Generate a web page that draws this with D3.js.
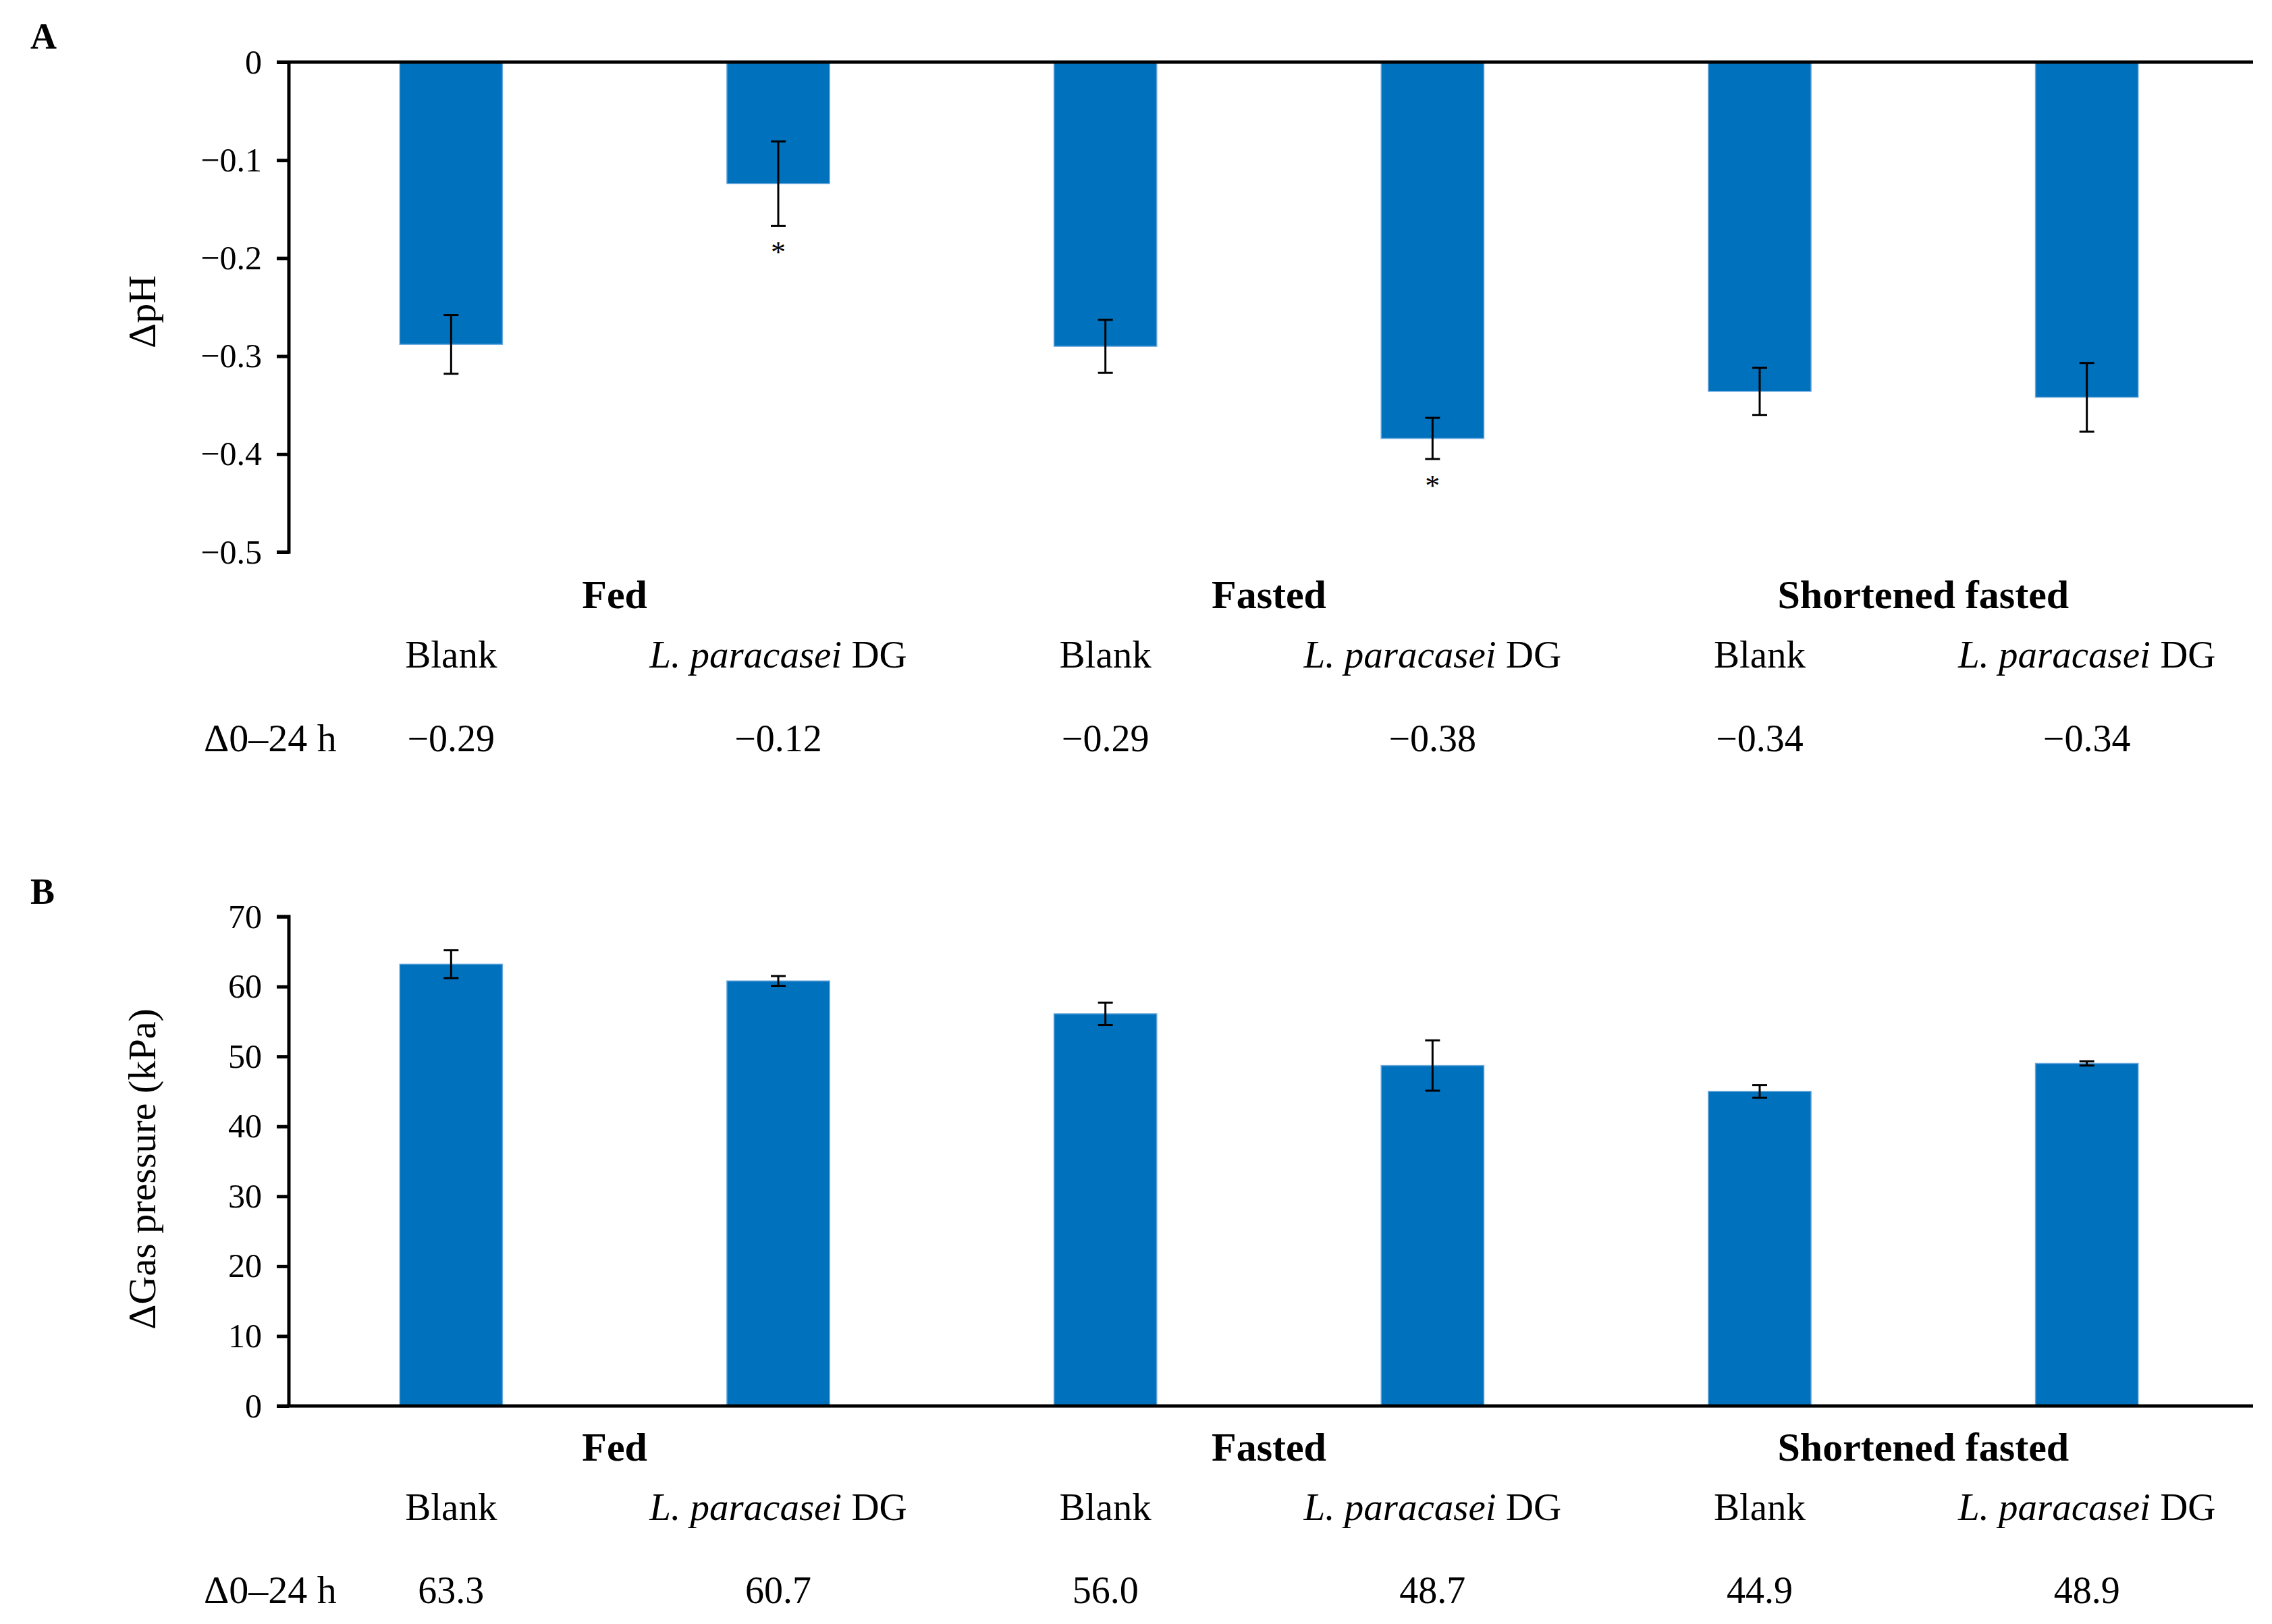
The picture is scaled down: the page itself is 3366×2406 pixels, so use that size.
<!DOCTYPE html>
<html>
<head>
<meta charset="utf-8">
<script src="https://cdn.jsdelivr.net/npm/d3@7"></script>
<style>
  body { margin: 0; background: #fff; }
  text { font-family: "Liberation Serif", "Times New Roman", serif; fill: #000; }
</style>
</head>
<body>
<svg id="chart" width="3366" height="2406"></svg>
<script>
// data
var groups = ['Fed', 'Fasted', 'Shortened fasted'];
var treatments = ['Blank', 'L. paracasei DG', 'Blank', 'L. paracasei DG', 'Blank', 'L. paracasei DG'];
var phMean = [-0.288, -0.124, -0.290, -0.384, -0.336, -0.342];
var phErr = [0.030, 0.043, 0.027, 0.021, 0.024, 0.035];
var phLabels = ['\u22120.29', '\u22120.12', '\u22120.29', '\u22120.38', '\u22120.34', '\u22120.34'];
var phStar = [false, true, false, true, false, false];
var phTicks = [0, -0.1, -0.2, -0.3, -0.4, -0.5];
var gasMean = [63.2, 60.8, 56.1, 48.7, 45.0, 49.0];
var gasErr = [2.0, 0.7, 1.6, 3.6, 0.9, 0.3];
var gasLabels = ['63.3', '60.7', '56.0', '48.7', '44.9', '48.9'];
var gasTicks = [0, 10, 20, 30, 40, 50, 60, 70];

var svg = d3.select('#chart');
var barColor = '#0071bc';

var x = d3.scaleBand()
    .domain(d3.range(6))
    .range([426, 3334])
    .paddingInner(0.686)
    .paddingOuter(0.343);

function fmt(v) {
    return v === 0 ? '0' : (v < 0 ? '\u2212' + Math.abs(v) : '' + v);
}

function panel(opt) {
    var g = svg.append('g');
    var y = opt.y;
    var base = y(0);

    // bars
    g.selectAll('rect.bar')
        .data(opt.mean)
        .enter()
        .append('rect')
        .attr('class', 'bar')
        .attr('x', function(d, i){ return x(i); })
        .attr('width', x.bandwidth())
        .attr('y', function(d){ return Math.min(y(d), base); })
        .attr('height', function(d){ return Math.abs(y(d) - base); })
        .attr('fill', barColor)
        .attr('stroke', '#6aa8dc')
        .attr('stroke-width', 1.5);

    // error bars
    var eb = g.selectAll('g.err')
        .data(opt.mean)
        .enter()
        .append('g')
        .attr('stroke', '#000')
        .attr('stroke-width', 3);
    eb.append('line')
        .attr('x1', function(d, i){ return x(i) + x.bandwidth() / 2; })
        .attr('x2', function(d, i){ return x(i) + x.bandwidth() / 2; })
        .attr('y1', function(d, i){ return y(d - opt.err[i]); })
        .attr('y2', function(d, i){ return y(d + opt.err[i]); });
    [-1, 1].forEach(function(s){
        eb.append('line')
            .attr('x1', function(d, i){ return x(i) + x.bandwidth() / 2 - 11; })
            .attr('x2', function(d, i){ return x(i) + x.bandwidth() / 2 + 11; })
            .attr('y1', function(d, i){ return y(d + s * opt.err[i]); })
            .attr('y2', function(d, i){ return y(d + s * opt.err[i]); });
    });

    // y axis
    var ax = g.append('g')
        .attr('transform', 'translate(428,0)')
        .call(d3.axisLeft(y).tickValues(opt.ticks).tickSize(18).tickPadding(22).tickFormat(fmt));
    ax.select('.domain').attr('stroke-width', 5).attr('d', 'M-18,' + y(opt.ticks[opt.ticks.length - 1]) + 'H0V' + y(opt.ticks[0]));
    ax.selectAll('.tick line').attr('stroke-width', 5);
    ax.selectAll('.tick text')
        .style('font-family', '"Liberation Serif", serif')
        .attr('font-size', 50)
        .attr('fill', '#000');
    if (opt.ticks[0] === 0 && opt.yZeroTop) {
        ax.select('.domain').attr('d', 'M0,' + y(0) + 'V' + y(opt.ticks[opt.ticks.length - 1]) + 'H-18');
    }

    // zero line across
    g.append('line')
        .attr('x1', 410).attr('x2', 3338)
        .attr('y1', base).attr('y2', base)
        .attr('stroke', '#000').attr('stroke-width', 5);

    // y title
    g.append('text')
        .attr('transform', 'translate(230,' + opt.titleY + ') rotate(-90)')
        .attr('text-anchor', 'middle')
        .attr('font-size', 58)
        .text(opt.title);

    // panel letter
    g.append('text')
        .attr('x', 45).attr('y', opt.letterY)
        .attr('font-size', 54).attr('font-weight', 'bold')
        .text(opt.letter);

    // group labels
    g.selectAll('text.grp')
        .data(groups)
        .enter()
        .append('text')
        .attr('x', function(d, i){ return (x(2 * i) + x(2 * i + 1) + x.bandwidth()) / 2; })
        .attr('y', opt.rows[0])
        .attr('text-anchor', 'middle')
        .attr('font-size', 60)
        .attr('font-weight', 'bold')
        .text(function(d){ return d; });

    // treatment labels
    var tl = g.selectAll('text.trt')
        .data(treatments)
        .enter()
        .append('text')
        .attr('x', function(d, i){ return x(i) + x.bandwidth() / 2; })
        .attr('y', opt.rows[1])
        .attr('text-anchor', 'middle')
        .attr('font-size', 57);
    tl.each(function(d){
        var t = d3.select(this);
        if (d.indexOf('L. paracasei') === 0) {
            t.append('tspan').attr('font-style', 'italic').text('L. paracasei');
            t.append('tspan').text(' DG');
        } else {
            t.text(d);
        }
    });

    // delta row
    g.append('text')
        .attr('x', 302).attr('y', opt.rows[2])
        .attr('font-size', 58)
        .text('\u03940\u201324 h');
    g.selectAll('text.val')
        .data(opt.labels)
        .enter()
        .append('text')
        .attr('x', function(d, i){ return x(i) + x.bandwidth() / 2; })
        .attr('y', opt.rows[2])
        .attr('text-anchor', 'middle')
        .attr('font-size', 56)
        .text(function(d){ return d; });

    return g;
}

var yA = d3.scaleLinear().domain([-0.5, 0]).range([818, 92]);
var gA = panel({
    y: yA, mean: phMean, err: phErr, ticks: phTicks, labels: phLabels,
    title: '\u0394pH', titleY: 462, letter: 'A', letterY: 72,
    rows: [901, 989, 1113], yZeroTop: true
});

// significance marks
gA.selectAll('text.star')
    .data(phMean)
    .enter()
    .filter(function(d, i){ return phStar[i]; })
    .append('text')
    .attr('x', function(d, i){ return x(phMean.indexOf(d)) + x.bandwidth() / 2; })
    .attr('y', function(d){ var i = phMean.indexOf(d); return yA(d - phErr[i]) + 54; })
    .attr('text-anchor', 'middle')
    .attr('font-size', 44)
    .text('*');

var yB = d3.scaleLinear().domain([0, 70]).range([2083, 1358]);
panel({
    y: yB, mean: gasMean, err: gasErr, ticks: gasTicks, labels: gasLabels,
    title: '\u0394Gas pressure (kPa)', titleY: 1732, letter: 'B', letterY: 1339,
    rows: [2164, 2252, 2375], yZeroTop: false
});
</script>
</body>
</html>
